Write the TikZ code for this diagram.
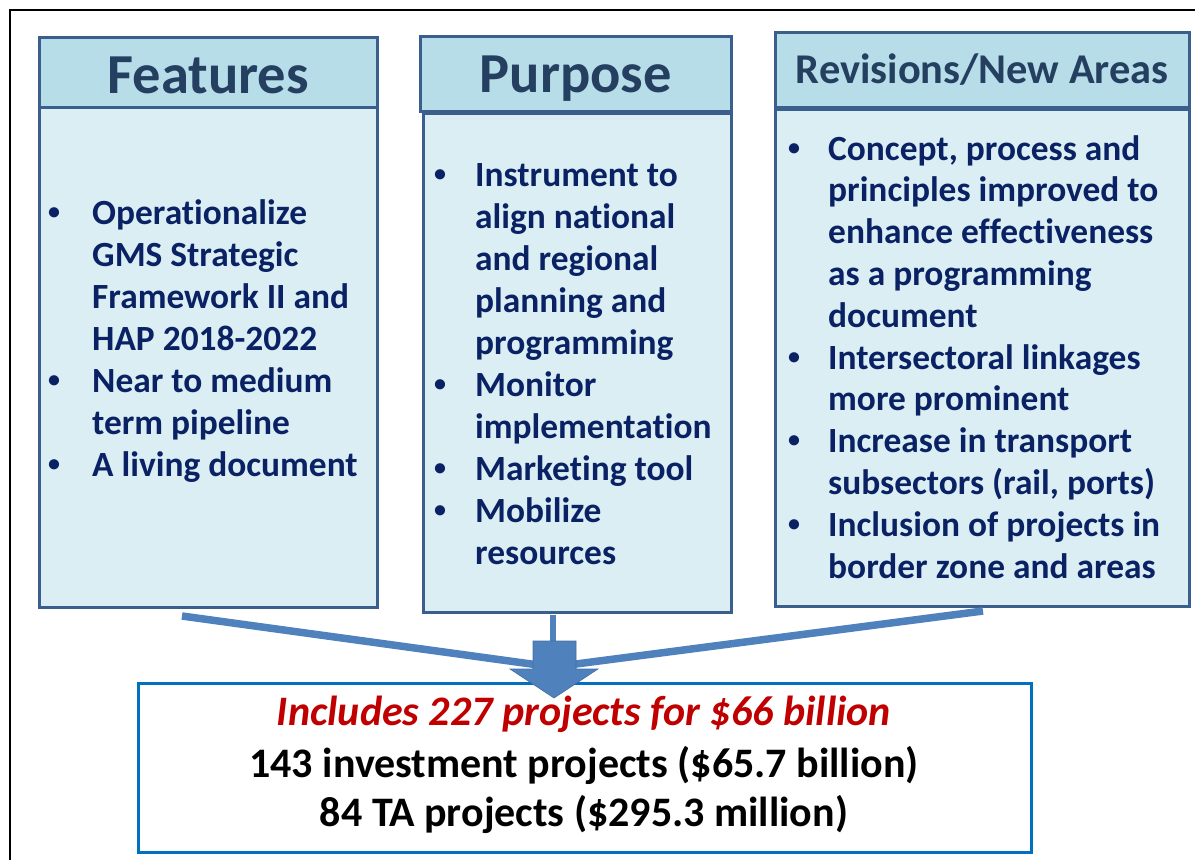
\documentclass[tikz,border=0pt]{standalone}
\usepackage{fontspec}
\setmainfont{Carlito}[Ligatures={NoCommon}]
\definecolor{hdrfill}{HTML}{B7DEE8}
\definecolor{bodyfill}{HTML}{DAEEF3}
\definecolor{boxline}{HTML}{3A5F8C}
\definecolor{hdrtext}{HTML}{243F60}
\definecolor{bultext}{HTML}{0A2264}
\definecolor{arrowblue}{HTML}{4F81BD}
\definecolor{bottomline}{HTML}{0070C0}
\definecolor{redtext}{HTML}{C00000}
\newlength{\bulind}
\newcommand{\bl}[1]{\makebox[\bulind][l]{\raisebox{5pt}{\fontsize{24}{24}\selectfont\textbullet}}#1}
\newcommand{\cl}[1]{\hspace*{\bulind}#1}
\tikzset{
  hdrbox/.style={draw=boxline, line width=2.5pt, fill=hdrfill, anchor=north west, inner sep=0pt, text=hdrtext, font=\bfseries},
  bodybox/.style={draw=boxline, line width=2.5pt, fill=bodyfill, anchor=north west, inner sep=0pt},
  bodytext/.style={anchor=base west, inner sep=0pt, text=bultext},
  conn/.style={draw=arrowblue, line width=7.5pt},
  bigtext/.style={anchor=base, inner sep=0pt, font=\fontsize{42}{47}\selectfont\bfseries}
}
\begin{document}
\begin{tikzpicture}[x=1pt,y=-1pt]
\useasboundingbox (0,0) rectangle (1195,860);
\draw[line width=1.5pt] (10,860) -- (10,10) -- (1195,10);

% Features
\node[bodybox, minimum width=338pt, minimum height=500pt] (fb) at (38,106) {};
\node[hdrbox, minimum width=338pt, minimum height=70pt, text height=42pt, text depth=0pt, font=\fontsize{56.5}{60}\selectfont\bfseries] (fh) at (38,36) {Features};
\node[bodytext] (ft) at (48,224) {\parbox[t]{325pt}{\setlength{\bulind}{44pt}\fontsize{35.4}{42}\selectfont\bfseries
\bl{Operationalize}\\
\cl{GMS Strategic}\\
\cl{Framework II and}\\
\cl{HAP 2018-2022}\\
\bl{Near to medium}\\
\cl{term pipeline}\\
\bl{A living document}}};

% Purpose
\node[bodybox, minimum width=308pt, minimum height=499pt] (pb) at (422,112) {};
\node[hdrbox, minimum width=311pt, minimum height=75pt, text height=37pt, text depth=0pt, font=\fontsize{56.5}{60}\selectfont\bfseries] (ph) at (419,35) {Purpose};
\node[bodytext] (pt) at (434,186) {\parbox[t]{300pt}{\setlength{\bulind}{41pt}\fontsize{35.4}{42}\selectfont\bfseries
\bl{Instrument to}\\
\cl{align national}\\
\cl{and regional}\\
\cl{planning and}\\
\cl{programming}\\
\bl{Monitor}\\
\cl{implementation}\\
\bl{Marketing tool}\\
\bl{Mobilize}\\
\cl{resources}}};

% Revisions
\node[bodybox, minimum width=414pt, minimum height=497pt] (rb) at (774,108) {};
\node[hdrbox, minimum width=414pt, minimum height=75pt, text height=27pt, text depth=0pt, font=\fontsize{42.4}{45}\selectfont\bfseries] (rh) at (774,31) {Revisions/New Areas};
\node[bodytext] (rt) at (788,160) {\parbox[t]{400pt}{\setlength{\bulind}{40pt}\fontsize{35.4}{41.8}\selectfont\bfseries
\bl{Concept, process and}\\
\cl{principles improved to}\\
\cl{enhance effectiveness}\\
\cl{as a programming}\\
\cl{document}\\
\bl{Intersectoral linkages}\\
\cl{more prominent}\\
\bl{Increase in transport}\\
\cl{subsectors (rail, ports)}\\
\bl{Inclusion of projects in}\\
\cl{border zone and areas}}};

% Bottom box
\node[draw=bottomline, line width=3pt, fill=white, anchor=north west, inner sep=0pt, minimum width=893pt, minimum height=169pt] (bb) at (137,682) {};
\node[bigtext, text=redtext, font=\fontsize{42}{47}\selectfont\bfseries\itshape] (b1) at (584,725) {Includes 227 projects for \$66 billion};
\node[bigtext, text=black] (b2) at (584,777) {143 investment projects (\$65.7 billion)};
\node[bigtext, text=black] (b3) at (584,826) {84 TA projects (\$295.3 million)};

% Connectors
\coordinate (fs) at (182,616);
\coordinate (ps) at (553,615);
\coordinate (rs) at (983,611);
\coordinate (m) at (553,667);
\coordinate (tip) at (554,698);
\draw[conn] (fs) -- (m);
\draw[conn] (rs) -- (m);
\draw[draw=arrowblue, line width=6.5pt] (ps) -- (553,645);
\fill[arrowblue, draw=arrowblue!85!black, line width=0.6pt]
  (533,641) -- (576,641) -- (576,669) -- (598,669) -- (tip) -- (510,669) -- (533,669) -- cycle;
\end{tikzpicture}
\end{document}
